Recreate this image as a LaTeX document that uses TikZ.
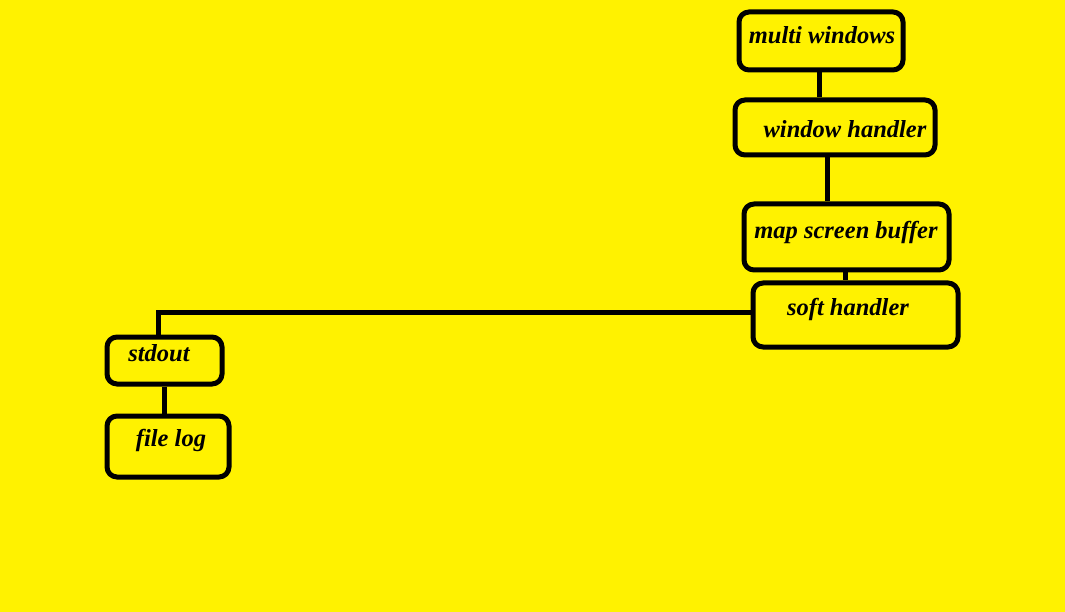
\documentclass[tikz,border=0pt]{standalone}
\usepackage{fontspec}
\setmainfont{Liberation Serif}
\begin{document}
\begin{tikzpicture}[x=1pt,y=-1pt,
  box/.style={draw=black,line width=5pt,rounded corners=10pt,inner sep=0pt},
  lbl/.style={font=\fontsize{24.5}{27}\selectfont\bfseries\itshape,inner sep=0pt,anchor=center},
  conn/.style={draw=black,line width=5pt}]
\fill[fill={rgb,255:red,255;green,242;blue,0}] (0,0) rectangle (1065,612);
\useasboundingbox (0,0) rectangle (1065,612);
% boxes
\node[box,minimum width=164pt,minimum height=58pt] (mw) at (821,41) {};
\node[box,minimum width=200pt,minimum height=55pt] (wh) at (835,127.5) {};
\node[box,minimum width=205pt,minimum height=66pt] (ms) at (846.5,237) {};
\node[box,minimum width=205pt,minimum height=64pt] (sh) at (855.5,315) {};
\node[box,minimum width=115pt,minimum height=47pt] (so) at (164.5,360.5) {};
\node[box,minimum width=122pt,minimum height=61pt] (fl) at (168,446.5) {};
% labels
\node[lbl] (tmw) at (822,35) {multi windows};
\node[lbl] (twh) at (845,129) {window handler};
\node[lbl] (tms) at (846,232) {map screen buffer};
\node[lbl] (tsh) at (848,309) {soft handler};
\node[lbl] (tso) at (159,353) {stdout};
\node[lbl] (tfl) at (171,440) {file log};
% connectors
\draw[conn] (819,0 |- mw.south) -- (819,0 |- wh.north);
\draw[conn] (827,0 |- wh.south) -- (827,0 |- ms.north);
\draw[conn] (845,0 |- ms.south) -- (845,0 |- sh.north);
\draw[conn] (sh.west |- 0,312) -| (158,0 |- so.north);
\draw[conn] (164,0 |- so.south) -- (164,0 |- fl.north);
\end{tikzpicture}
\end{document}
